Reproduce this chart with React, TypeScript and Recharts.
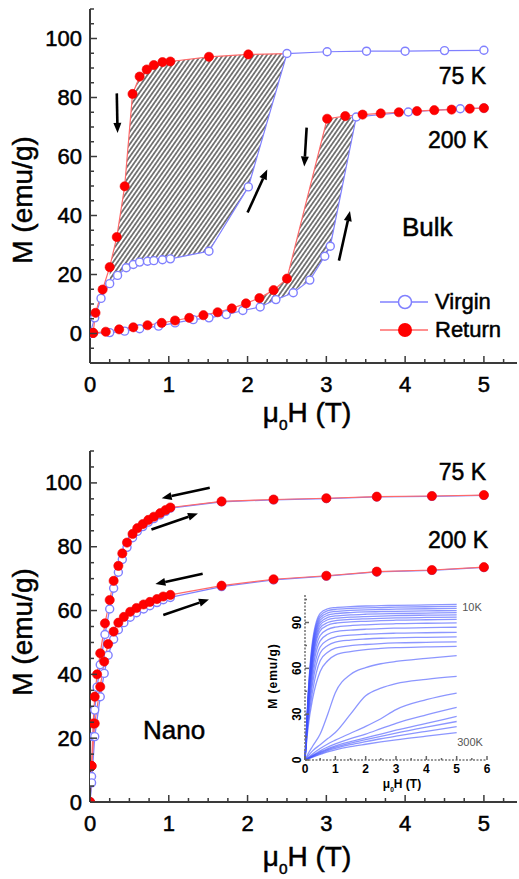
import React from 'react';
import { ComposedChart, LineChart, Line, Area, XAxis, YAxis, ReferenceLine } from 'recharts';

const FONT = '"Liberation Sans", Arial, sans-serif';
const BLUE = '#8080ff';
const RED = '#ff0000';
const RED_LINE = '#ff6a6a';
const AXIS = '#3a3a3a';

// ---------- Bulk panel (top) ----------
const bulk75VirginH = [0, 0.06, 0.14, 0.25, 0.35, 0.46, 0.55, 0.63, 0.73, 0.81, 0.92, 1.02, 1.51, 2.01, 2.5, 3.01, 3.51, 4.0, 4.5, 5.0];
const bulk75VirginM = [0, 5.3, 11.9, 16.9, 19.7, 22.3, 23.4, 24.2, 24.5, 24.7, 25.0, 25.3, 27.9, 49.7, 94.9, 95.5, 95.7, 95.7, 95.9, 96.0];
const bulk75ReturnH = [2.5, 2.01, 1.51, 1.02, 0.92, 0.81, 0.72, 0.63, 0.54, 0.44, 0.34, 0.25, 0.16, 0.07, 0.04];
const bulk75ReturnM = [94.9, 94.6, 93.8, 92.2, 92.0, 91.0, 89.5, 87.1, 81.2, 49.9, 32.7, 22.5, 14.9, 7.0, 0.2];

const bulk200VirginH = [0, 0.25, 0.44, 0.63, 0.87, 1.08, 1.31, 1.51, 1.73, 1.94, 2.16, 2.36, 2.58, 2.79, 2.98, 3.05, 3.38, 4.04, 4.7, 5.0];
const bulk200VirginM = [0, 0.3, 0.8, 1.6, 2.5, 3.6, 4.7, 5.3, 6.4, 7.8, 9.0, 11.5, 13.8, 18.1, 26.2, 29.6, 73.4, 75.1, 76.2, 76.4];
const bulk200ReturnH = [5.0, 4.82, 4.59, 4.37, 4.15, 3.92, 3.69, 3.46, 3.24, 3.01, 2.5, 2.33, 2.15, 1.98, 1.8, 1.62, 1.44, 1.26, 1.08, 0.91, 0.73, 0.55, 0.37, 0.2, 0.04];
const bulk200ReturnM = [76.4, 76.2, 75.9, 75.7, 75.4, 75.0, 74.6, 74.2, 73.7, 72.8, 18.6, 14.7, 12.0, 10.2, 8.5, 7.2, 6.2, 5.3, 4.4, 3.6, 2.8, 2.1, 1.4, 0.6, 0.2];

// hatched hysteresis regions (lower = virgin, upper = return)
const hatch75H = [0.25, 0.34, 0.44, 0.54, 0.63, 0.81, 1.02, 1.51, 2.01, 2.5];
const hatch75Lo = [17, 19.7, 22, 23.3, 24.2, 24.7, 25.3, 27.9, 49.7, 94.9];
const hatch75Hi = [22.5, 32.7, 49.9, 81.2, 87.1, 91, 92.2, 93.8, 94.6, 94.9];
const hatch200H = [2.15, 2.33, 2.5, 2.79, 3.01, 3.05, 3.38];
const hatch200Lo = [9, 11, 13, 18.1, 27, 29.6, 73.4];
const hatch200Hi = [12, 14.7, 18.6, 49.4, 72.8, 73, 73.4];

// arrows (from -> to) in data units
const bulkArrowFromH = [0.34, 2.0, 2.75, 3.16];
const bulkArrowFromM = [81.4, 41, 69.8, 24.7];
const bulkArrowToH = [0.35, 2.25, 2.72, 3.3];
const bulkArrowToM = [68, 55.6, 56.6, 41.5];

// ---------- Nano panel (bottom) ----------
const nano75H = [0, 0.02, 0.04, 0.06, 0.09, 0.13, 0.19, 0.25, 0.3, 0.36, 0.41, 0.47, 0.54, 0.6, 0.67, 0.74, 0.81, 0.89, 0.96, 1.02, 1.67, 2.33, 3.0, 3.64, 4.34, 5.0];
const nano75ReturnM = [0, 11.3, 24.6, 33, 40, 46.6, 56, 63.3, 69.3, 74, 77.9, 81.3, 84, 85.8, 87.1, 88.4, 89.4, 90.5, 91.5, 92.3, 94.2, 94.8, 95.2, 95.7, 95.9, 96.2];
const nano75VirginM = [0, 8, 20.5, 28.8, 36, 43, 52.5, 60.5, 67, 72, 76, 79.8, 82.8, 84.8, 86.3, 87.7, 88.8, 90, 91.1, 92.1, 94.1, 94.7, 95.1, 95.6, 95.8, 96.1];
const nano200H = [0, 0.02, 0.06, 0.13, 0.18, 0.23, 0.3, 0.36, 0.43, 0.51, 0.59, 0.68, 0.76, 0.85, 0.93, 1.02, 1.67, 2.33, 3.0, 3.64, 4.34, 5.0];
const nano200ReturnM = [0, 11.3, 24.6, 36.1, 44, 49.5, 53.4, 56.2, 58, 59.6, 60.8, 61.9, 62.7, 63.6, 64.4, 64.9, 67.8, 69.8, 70.9, 72.2, 72.7, 73.6];
const nano200VirginM = [0, 6, 20.5, 33, 40.3, 46, 51, 54, 56.2, 57.9, 59.3, 60.5, 61.5, 62.5, 63.4, 64.1, 67.5, 69.6, 70.8, 72.1, 72.6, 73.5];

const nanoArrowFromH = [1.52, 0.78, 1.43, 0.93];
const nanoArrowFromM = [98.5, 85.4, 71.5, 58.6];
const nanoArrowToH = [0.91, 1.37, 0.83, 1.51];
const nanoArrowToM = [95.2, 90.4, 68.3, 63.5];

// ---------- Inset (10 K ... 300 K) ----------
const insetH = [0, 0.1, 0.25, 0.5, 0.75, 1, 1.5, 2, 2.5, 3, 4, 5];
const insetCurves = [
  [0, 42, 78, 96, 99, 99.8, 100.4, 100.8, 101, 101.2, 101.5, 101.8],
  [0, 41, 76, 94.5, 97.7, 98.6, 99.2, 99.6, 99.8, 100, 100.3, 100.5],
  [0, 40, 74, 93, 96.3, 97.2, 97.9, 98.3, 98.5, 98.7, 99, 99.2],
  [0, 39, 72, 91.5, 94.8, 95.8, 96.5, 96.9, 97.1, 97.3, 97.6, 97.8],
  [0, 38, 70, 90, 93.3, 94.3, 95, 95.4, 95.7, 95.9, 96.2, 96.4],
  [0, 37, 68, 88.3, 91.8, 92.8, 93.5, 93.9, 94.2, 94.5, 94.8, 95],
  [0, 36, 66, 86.5, 90, 91.2, 92, 92.4, 92.7, 93, 93.3, 93.5],
  [0, 35, 64, 84.5, 88.2, 89.5, 90.4, 90.8, 91.2, 91.5, 91.8, 92],
  [0, 33, 61, 81.5, 85.5, 87, 88, 88.5, 88.9, 89.2, 89.5, 89.8],
  [0, 31, 58, 78, 82.3, 84, 85, 85.6, 86, 86.3, 86.6, 86.9],
  [0, 29, 54, 74, 78.5, 80.5, 81.7, 82.3, 82.7, 83, 83.3, 83.6],
  [0, 27, 50, 70, 75, 77.2, 78.5, 79.2, 79.7, 80, 80.3, 80.6],
  [0, 24, 45, 65, 70.5, 73.2, 74.8, 75.6, 76.2, 76.6, 77, 77.3],
  [0, 21, 40, 58, 65, 68.7, 71, 72.3, 73, 73.5, 74, 74.4],
  [0, 4, 9, 17, 30, 44, 56, 60.5, 63, 64.5, 66.5, 68.3],
  [0, 2.5, 6, 10, 14, 18, 30, 42, 47, 50, 52.8, 54.7],
  [0, 1.5, 4, 7.5, 10.5, 13, 17.5, 22, 27, 33, 39.5, 43.8],
  [0, 1.2, 3, 6, 8.5, 10.5, 14, 17, 20.5, 24, 29.5, 34.4],
  [0, 1, 2.7, 5.2, 7.5, 9.2, 12, 14.5, 17, 19.5, 24, 28.5],
  [0, 0.9, 2.4, 4.7, 6.8, 8.4, 11, 13.3, 15.5, 17.6, 21.5, 25.2],
  [0, 0.8, 2.1, 4.2, 6.1, 7.6, 10, 12, 13.9, 15.6, 18.8, 21.9],
  [0, 0.7, 1.8, 3.6, 5.3, 6.6, 8.7, 10.3, 11.8, 13.2, 15.6, 17.9],
];

// ---------- ticks ----------
const mainXTicks = [0, 0.25, 0.5, 0.75, 1, 1.25, 1.5, 1.75, 2, 2.25, 2.5, 2.75, 3, 3.25, 3.5, 3.75, 4, 4.25, 4.5, 4.75, 5, 5.25];
const bulkYTicks = [-10, -5, 0, 5, 10, 15, 20, 25, 30, 35, 40, 45, 50, 55, 60, 65, 70, 75, 80, 85, 90, 95, 100, 105, 110];
const nanoYTicks = [0, 5, 10, 15, 20, 25, 30, 35, 40, 45, 50, 55, 60, 65, 70, 75, 80, 85, 90, 95, 100, 105, 110];
const mainYLabels = [0, 20, 40, 60, 80, 100];
const insetXTicks = [0, 0.5, 1, 1.5, 2, 2.5, 3, 3.5, 4, 4.5, 5, 5.5, 6];
const insetYTicks = [0, 15, 30, 45, 60, 75, 90, 105];

const rows = (h: number[], m: number[]) => h.map((v, i) => ({ h: v, m: m[i] }));
const ranges = (h: number[], lo: number[], hi: number[]) => h.map((v, i) => ({ h: v, r: [lo[i], hi[i]] }));
const insetRows = insetH.map((h, i) => {
  const row: any = { h };
  insetCurves.forEach((c, k) => { row['c' + k] = c[i]; });
  return row;
});

type TickOpts = {
  side: 'bottom' | 'top' | 'left' | 'right';
  isMajor: (v: number) => boolean;
  major: number;
  minor: number;
  labels?: number[];
  offset?: number;
  fontSize?: number;
  rotate?: boolean;
  stroke?: string;
  weight?: string;
  textStroke?: number;
};

const makeTick = (o: TickOpts) => (props: any) => {
  const { x, y, payload } = props;
  const v = payload.value;
  const maj = o.isMajor(v);
  const len = maj ? o.major : o.minor;
  const showLabel = o.labels && o.labels.some((l) => Math.abs(l - v) < 1e-6);
  const stroke = o.stroke || AXIS;
  let line: any = null;
  let text: any = null;
  const fs = o.fontSize || 22;
  const ts = o.textStroke === undefined ? 0.5 : o.textStroke;
  const common = { fontFamily: FONT, fontSize: fs, fill: '#000', fontWeight: o.weight || 'normal', stroke: ts ? '#000' : 'none', strokeWidth: ts } as any;
  if (o.side === 'bottom') {
    line = <line x1={x} y1={y} x2={x} y2={y - len} stroke={stroke} strokeWidth={1.5} />;
    if (showLabel) text = <text x={x} y={y + (o.offset || 20)} textAnchor="middle" dominantBaseline="central" {...common}>{v}</text>;
  } else if (o.side === 'top') {
    line = <line x1={x} y1={y} x2={x} y2={y + len} stroke={stroke} strokeWidth={1.5} />;
  } else if (o.side === 'left') {
    line = <line x1={x} y1={y} x2={x + len} y2={y} stroke={stroke} strokeWidth={1.5} />;
    if (showLabel) {
      const tx = x - (o.offset || 8);
      text = o.rotate
        ? <text x={tx} y={y} transform={`rotate(-90, ${tx}, ${y})`} textAnchor="middle" dominantBaseline="central" {...common}>{v}</text>
        : <text x={tx} y={y} textAnchor="end" dominantBaseline="central" {...common}>{v}</text>;
    }
  } else {
    line = <line x1={x} y1={y} x2={x - len} y2={y} stroke={stroke} strokeWidth={1.5} />;
  }
  return <g>{line}{text}</g>;
};

const isInt = (v: number) => Math.abs(v - Math.round(v)) < 1e-6;
const is20 = (v: number) => Math.abs(v / 20 - Math.round(v / 20)) < 1e-6;

const ArrowShape = (p: any) => {
  const { x1, y1, x2, y2 } = p;
  const dx = x2 - x1, dy = y2 - y1;
  const L = Math.sqrt(dx * dx + dy * dy) || 1;
  const ux = dx / L, uy = dy / L;
  const hl = 10, hw = 4;
  const bx = x2 - ux * hl, by = y2 - uy * hl;
  const pts = `${x2},${y2} ${bx - uy * hw},${by + ux * hw} ${bx + uy * hw},${by - ux * hw}`;
  return (
    <g>
      <line x1={x1} y1={y1} x2={bx} y2={by} stroke="#000" strokeWidth={2.6} />
      <polygon points={pts} fill="#000" />
    </g>
  );
};

const redDot = (skipFirst: boolean, r: number) => (p: any) => {
  if (skipFirst && p.index === 0) return <g key={`rd-${p.index}`} />;
  return <circle key={`rd-${p.index}`} cx={p.cx} cy={p.cy} r={r} fill={RED} stroke="#f00000" strokeWidth={0.6} />;
};
const blueDot = { r: 4, fill: '#fff', stroke: BLUE, strokeWidth: 1.4 };

const axisLine = { stroke: AXIS, strokeWidth: 2 };

const absText = (style: any, content: any) => (
  <div style={{ position: 'absolute', fontFamily: FONT, color: '#000', whiteSpace: 'nowrap', lineHeight: 1, WebkitTextStroke: '0.5px #000', ...style }}>{content}</div>
);

const MuH = ({ size }: { size: number }) => (
  <span>μ<sub style={{ fontSize: size * 0.55, verticalAlign: 'baseline', position: 'relative', top: size * 0.3 }}>0</sub>H (T)</span>
);

export default function App() {
  const W = 519;
  const xDomain = [0, 5.42];
  const xBottom = makeTick({ side: 'bottom', isMajor: isInt, major: 7, minor: 4, labels: [0, 1, 2, 3, 4, 5], offset: 21 });
  const xTop = makeTick({ side: 'top', isMajor: isInt, major: 7, minor: 4 });
  const yLeft = makeTick({ side: 'left', isMajor: is20, major: 7, minor: 4, labels: mainYLabels, offset: 8 });
  const yRight = makeTick({ side: 'right', isMajor: is20, major: 7, minor: 4 });

  const inX = makeTick({ side: 'bottom', isMajor: isInt, major: 4, minor: 2, labels: [0, 1, 2, 3, 4, 5, 6], offset: 9, fontSize: 12, stroke: '#666', weight: 'bold', textStroke: 0 });
  const inXTop = makeTick({ side: 'top', isMajor: isInt, major: 4, minor: 2, stroke: '#666' });
  const inY = makeTick({ side: 'left', isMajor: (v) => v % 30 === 0, major: 4, minor: 2, labels: [0, 30, 60, 90], offset: 8, fontSize: 12, rotate: true, stroke: '#666', weight: 'bold', textStroke: 0 });
  const inYRight = makeTick({ side: 'right', isMajor: (v) => v % 30 === 0, major: 4, minor: 2, stroke: '#666' });
  const inAxis = { stroke: '#777', strokeWidth: 1.6, strokeDasharray: '2 1.5' };

  return (
    <div style={{ position: 'absolute', left: 0, top: 0, width: W, height: 879, background: '#fff', overflow: 'hidden' }}>
      {/* ---------------- Top: Bulk ---------------- */}
      <div style={{ position: 'absolute', left: 0, top: 0 }}>
        <ComposedChart width={W} height={440} margin={{ top: 9, right: 2, bottom: 47, left: 0 }}>
          <defs>
            <pattern id="hatchBulk" patternUnits="userSpaceOnUse" width="3.6" height="3.6" patternTransform="rotate(35)">
              <rect width="3.6" height="3.6" fill="#fff" />
              <line x1="1.8" y1="0" x2="1.8" y2="3.6" stroke="#555" strokeWidth="1.5" />
            </pattern>
          </defs>
          <XAxis xAxisId="b" type="number" dataKey="h" domain={xDomain} ticks={mainXTicks} interval={0} allowDataOverflow
            height={30} tickSize={0} tickMargin={0} tickLine={false} axisLine={axisLine} tick={xBottom} />
          <XAxis xAxisId="t" orientation="top" type="number" dataKey="h" domain={xDomain} ticks={mainXTicks} interval={0} allowDataOverflow
            height={0} tickSize={0} tickMargin={0} tickLine={false} axisLine={axisLine} tick={xTop} />
          <YAxis yAxisId="l" type="number" domain={[-10, 110]} ticks={bulkYTicks} interval={0} allowDataOverflow
            width={90} tickSize={0} tickMargin={0} tickLine={false} axisLine={axisLine} tick={yLeft} />
          <YAxis yAxisId="r" orientation="right" type="number" domain={[-10, 110]} ticks={bulkYTicks} interval={0} allowDataOverflow
            width={0} tickSize={0} tickMargin={0} tickLine={false} axisLine={axisLine} tick={yRight} />

          <Area xAxisId="b" yAxisId="l" data={ranges(hatch75H, hatch75Lo, hatch75Hi)} dataKey="r" type="linear"
            stroke="none" fill="url(#hatchBulk)" fillOpacity={1} isAnimationActive={false} dot={false} activeDot={false} />
          <Area xAxisId="b" yAxisId="l" data={ranges(hatch200H, hatch200Lo, hatch200Hi)} dataKey="r" type="linear"
            stroke="none" fill="url(#hatchBulk)" fillOpacity={1} isAnimationActive={false} dot={false} activeDot={false} />

          <Line xAxisId="b" yAxisId="l" data={rows(bulk75VirginH, bulk75VirginM)} dataKey="m" type="linear" stroke={BLUE} strokeWidth={1.2}
            dot={blueDot} activeDot={false} isAnimationActive={false} />
          <Line xAxisId="b" yAxisId="l" data={rows(bulk200VirginH, bulk200VirginM)} dataKey="m" type="linear" stroke={BLUE} strokeWidth={1.2}
            dot={blueDot} activeDot={false} isAnimationActive={false} />
          <Line xAxisId="b" yAxisId="l" data={rows(bulk75ReturnH, bulk75ReturnM)} dataKey="m" type="linear" stroke={RED_LINE} strokeWidth={1.2}
            dot={redDot(true, 4.6)} activeDot={false} isAnimationActive={false} />
          <Line xAxisId="b" yAxisId="l" data={rows(bulk200ReturnH, bulk200ReturnM)} dataKey="m" type="linear" stroke={RED_LINE} strokeWidth={1.2}
            dot={redDot(false, 4.6)} activeDot={false} isAnimationActive={false} />
          {bulkArrowFromH.map((h, i) => (
            <ReferenceLine key={`ba${i}`} xAxisId="b" yAxisId="l"
              segment={[{ x: h, y: bulkArrowFromM[i] }, { x: bulkArrowToH[i], y: bulkArrowToM[i] }]}
              shape={ArrowShape} ifOverflow="visible" />
          ))}
        </ComposedChart>
      </div>

      {/* ---------------- Bottom: Nano ---------------- */}
      <div style={{ position: 'absolute', left: 0, top: 440 }}>
        <ComposedChart width={W} height={439} margin={{ top: 11, right: 2, bottom: 47, left: 0 }}>
          <XAxis xAxisId="b" type="number" dataKey="h" domain={xDomain} ticks={mainXTicks} interval={0} allowDataOverflow
            height={30} tickSize={0} tickMargin={0} tickLine={false} axisLine={axisLine} tick={xBottom} />
          <XAxis xAxisId="t" orientation="top" type="number" dataKey="h" domain={xDomain} ticks={mainXTicks} interval={0} allowDataOverflow
            height={0} tickSize={0} tickMargin={0} tickLine={false} axisLine={axisLine} tick={xTop} />
          <YAxis yAxisId="l" type="number" domain={[0, 110]} ticks={nanoYTicks} interval={0} allowDataOverflow
            width={90} tickSize={0} tickMargin={0} tickLine={false} axisLine={axisLine} tick={yLeft} />
          <YAxis yAxisId="r" orientation="right" type="number" domain={[0, 110]} ticks={nanoYTicks} interval={0} allowDataOverflow
            width={0} tickSize={0} tickMargin={0} tickLine={false} axisLine={axisLine} tick={yRight} />

          <Line xAxisId="b" yAxisId="l" data={rows(nano75H, nano75VirginM)} dataKey="m" type="linear" stroke={BLUE} strokeWidth={1.3}
            dot={blueDot} activeDot={false} isAnimationActive={false} />
          <Line xAxisId="b" yAxisId="l" data={rows(nano200H, nano200VirginM)} dataKey="m" type="linear" stroke={BLUE} strokeWidth={1.3}
            dot={blueDot} activeDot={false} isAnimationActive={false} />
          <Line xAxisId="b" yAxisId="l" data={rows(nano75H, nano75ReturnM)} dataKey="m" type="linear" stroke={RED_LINE} strokeWidth={1.2}
            dot={redDot(false, 4.6)} activeDot={false} isAnimationActive={false} />
          <Line xAxisId="b" yAxisId="l" data={rows(nano200H, nano200ReturnM)} dataKey="m" type="linear" stroke={RED_LINE} strokeWidth={1.2}
            dot={redDot(false, 4.6)} activeDot={false} isAnimationActive={false} />
          {nanoArrowFromH.map((h, i) => (
            <ReferenceLine key={`na${i}`} xAxisId="b" yAxisId="l"
              segment={[{ x: h, y: nanoArrowFromM[i] }, { x: nanoArrowToH[i], y: nanoArrowToM[i] }]}
              shape={ArrowShape} ifOverflow="visible" />
          ))}
        </ComposedChart>
      </div>

      {/* ---------------- Inset ---------------- */}
      <div style={{ position: 'absolute', left: 270, top: 585 }}>
        <LineChart width={225} height={205} data={insetRows} margin={{ top: 10, right: 8, bottom: 0, left: 0 }}>
          <XAxis xAxisId="b" type="number" dataKey="h" domain={[0, 6]} ticks={insetXTicks} interval={0}
            height={30} tickSize={0} tickMargin={0} tickLine={false} axisLine={inAxis} tick={inX} />
          <XAxis xAxisId="t" orientation="top" type="number" dataKey="h" domain={[0, 6]} ticks={insetXTicks} interval={0}
            height={0} tickSize={0} tickMargin={0} tickLine={false} axisLine={inAxis} tick={inXTop} />
          <YAxis yAxisId="l" type="number" domain={[0, 108]} ticks={insetYTicks} interval={0} allowDataOverflow
            width={35} tickSize={0} tickMargin={0} tickLine={false} axisLine={inAxis} tick={inY} />
          <YAxis yAxisId="r" orientation="right" type="number" domain={[0, 108]} ticks={insetYTicks} interval={0} allowDataOverflow
            width={0} tickSize={0} tickMargin={0} tickLine={false} axisLine={inAxis} tick={inYRight} />
          {insetCurves.map((_, k) => (
            <Line key={`c${k}`} xAxisId="b" yAxisId="l" dataKey={`c${k}`} type="monotone" stroke="#3f50ff" strokeOpacity={0.6}
              strokeWidth={1.3} dot={false} activeDot={false} isAnimationActive={false} />
          ))}
        </LineChart>
      </div>

      {/* ---------------- Text annotations ---------------- */}
      {absText({ right: W - 486, top: 65, fontSize: 23 }, '75 K')}
      {absText({ right: W - 488, top: 129, fontSize: 23 }, '200 K')}
      {absText({ left: 402, top: 214, fontSize: 26 }, 'Bulk')}
      {absText({ left: 23, top: 200, fontSize: 28, transform: 'translate(-50%, -50%) rotate(-90deg)' }, 'M (emu/g)')}
      {absText({ left: 307, top: 413, fontSize: 28, transform: 'translate(-50%, -50%)' }, <MuH size={28} />)}

      {/* legend */}
      <svg style={{ position: 'absolute', left: 378, top: 288 }} width={60} height={56}>
        <line x1={2} y1={14} x2={50} y2={14} stroke={BLUE} strokeWidth={1.3} />
        <circle cx={27} cy={14} r={6.5} fill="#fff" stroke={BLUE} strokeWidth={1.5} />
        <line x1={2} y1={42} x2={50} y2={42} stroke={RED_LINE} strokeWidth={1.3} />
        <circle cx={27} cy={42} r={7} fill={RED} />
      </svg>
      {absText({ left: 435, top: 291, fontSize: 22 }, 'Virgin')}
      {absText({ left: 435, top: 319, fontSize: 22 }, 'Return')}

      {absText({ right: W - 486, top: 461, fontSize: 23 }, '75 K')}
      {absText({ right: W - 488, top: 529, fontSize: 23 }, '200 K')}
      {absText({ left: 143, top: 717, fontSize: 26 }, 'Nano')}
      {absText({ left: 23, top: 632, fontSize: 28, transform: 'translate(-50%, -50%) rotate(-90deg)' }, 'M (emu/g)')}
      {absText({ left: 307, top: 857, fontSize: 28, transform: 'translate(-50%, -50%)' }, <MuH size={28} />)}

      {/* inset texts */}
      {absText({ left: 472, top: 607, fontSize: 11, color: '#555', WebkitTextStroke: '0px', transform: 'translate(-50%, -50%)' }, '10K')}
      {absText({ left: 470, top: 742, fontSize: 11, color: '#555', WebkitTextStroke: '0px', transform: 'translate(-50%, -50%)' }, '300K')}
      {absText({ left: 273, top: 676, fontSize: 12, fontWeight: 'bold', letterSpacing: 1, WebkitTextStroke: '0px', transform: 'translate(-50%, -50%) rotate(-90deg)' }, 'M (emu/g)')}
      {absText({ left: 402, top: 784, fontSize: 12, fontWeight: 'bold', WebkitTextStroke: '0px', transform: 'translate(-50%, -50%)' }, <MuH size={12} />)}
    </div>
  );
}
